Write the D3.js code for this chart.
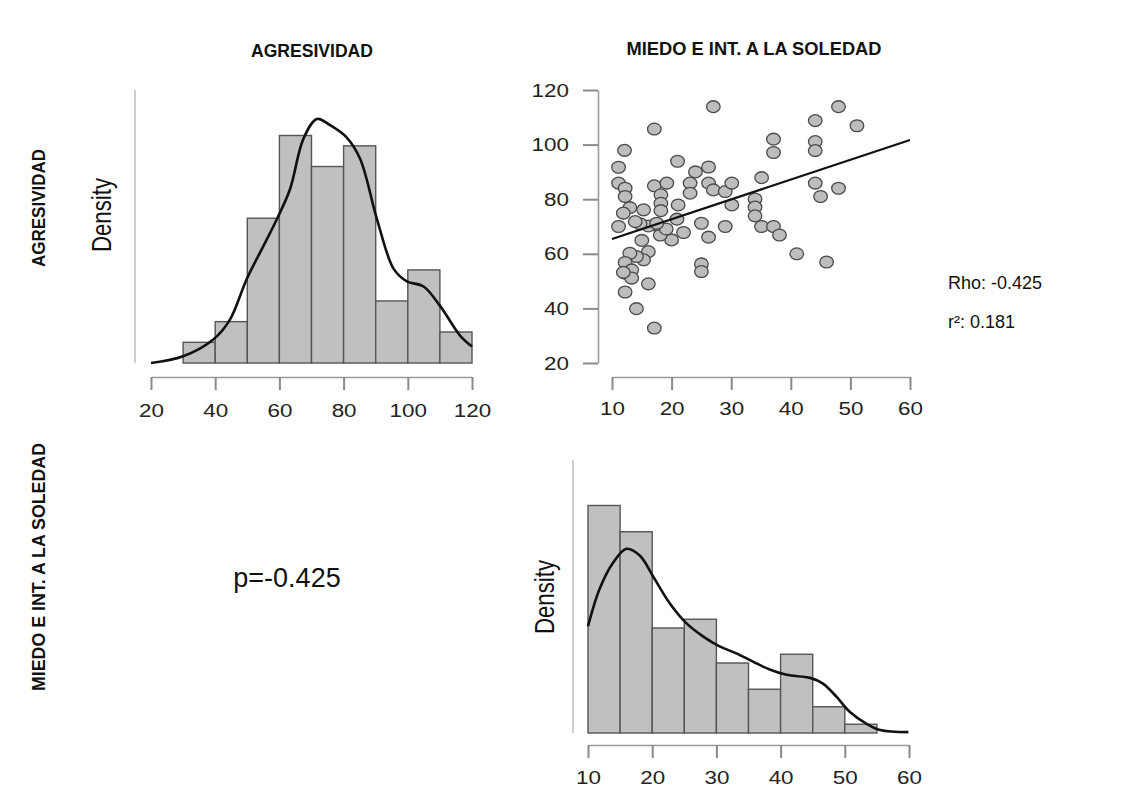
<!DOCTYPE html>
<html>
<head>
<meta charset="utf-8">
<script src="https://cdn.jsdelivr.net/npm/d3@7"></script>
<style>
  body { margin: 0; background: #fff; }
  svg { display: block; }
</style>
</head>
<body>
<svg id="chart" width="1148" height="792"></svg>
<script>
// ---------------- DATA ----------------
const varNames = ["AGRESIVIDAD", "MIEDO E INT. A LA SOLEDAD"];

// Histogram of AGRESIVIDAD (bin width 10)
const agrBinStart = [30, 40, 50, 60, 70, 80, 90, 100, 110];
const agrCounts   = [2, 4, 14, 22, 19, 21, 6, 9, 3];
const agrBinWidth = 10;
const agrN = 100;
const agrTicks = [20, 40, 60, 80, 100, 120];
// Density curve of AGRESIVIDAD
const agrDensX = [20, 30, 39.4, 44.6, 49.8, 55, 59.2, 63.3, 67.5, 71.7, 75.8, 81, 85.2, 90.4, 95.6, 99.7, 104.9, 110.1, 116.4, 120];
const agrDensY = [0.0000, 0.00065, 0.00227, 0.0042, 0.0081, 0.0113, 0.0139, 0.0168, 0.0217, 0.0236, 0.0230, 0.0218, 0.0197, 0.0139, 0.0091, 0.0079, 0.0074, 0.0055, 0.0026, 0.0016];

// Histogram of MIEDO E INT. A LA SOLEDAD (bin width 5)
const mieBinStart = [10, 15, 20, 25, 30, 35, 40, 45, 50];
const mieCounts   = [26, 23, 12, 13, 8, 5, 9, 3, 1];
const mieBinWidth = 5;
const mieN = 100;
const mieTicks = [10, 20, 30, 40, 50, 60];
const mieDensX = [10, 11.8, 13.9, 16, 18.1, 20.1, 22.7, 25.3, 27.9, 30.5, 33.1, 35.7, 38.3, 40.9, 44.6, 46.6, 48.7, 50.8, 53.4, 55.5, 59.9];
const mieDensY = [0.0244, 0.0329, 0.0389, 0.0421, 0.0405, 0.0359, 0.0297, 0.0251, 0.0221, 0.0198, 0.0182, 0.0163, 0.0145, 0.0133, 0.0126, 0.0113, 0.0083, 0.0048, 0.0021, 0.0007, 0.0002];

// Scatter: x = MIEDO E INT. A LA SOLEDAD, y = AGRESIVIDAD
const scatterX = [27.0,17.1,12.1,11.1,21.0,24.0,26.2,11.1,12.2,12.2,17.1,19.2,18.2,18.2,18.2,23.1,23.1,26.2,27.0,29.0,30.1,30.1,21.1,20.9,22.0,25.0,26.2,29.0,20.0,18.1,19.1,17.2,16.1,14.7,13.9,15.3,13.0,11.9,11.1,15.0,16.1,15.3,14.1,13.0,12.2,12.2,13.3,13.3,12.2,16.1,14.1,17.1,25.0,25.0,48.0,44.1,51.1,37.1,37.1,44.1,44.1,35.1,34.0,34.0,34.0,35.1,37.1,38.1,44.1,45.0,48.0,41.0,46.0,17.5,11.9];
const scatterY = [113.9,105.7,97.9,91.7,93.9,90.0,91.8,85.9,84.0,81.0,84.9,85.9,81.6,78.5,75.8,85.9,82.2,85.9,83.4,82.8,85.9,77.9,77.9,72.7,67.8,71.2,66.1,70.0,65.1,66.9,69.1,70.6,70.2,71.0,71.8,76.1,76.9,74.9,70.0,64.9,60.8,57.8,59.0,60.2,56.8,52.9,54.1,51.1,46.0,49.0,39.9,32.8,56.3,53.5,113.9,108.8,106.9,102.0,97.1,101.1,97.8,87.9,80.1,77.1,73.9,70.0,70.0,66.9,85.9,81.0,84.0,60.0,57.0,71.2,53.2];
const scatterXTicks = [10, 20, 30, 40, 50, 60];
const scatterYTicks = [20, 40, 60, 80, 100, 120];
// Regression line end points
const regX = [10, 60];
const regY = [65.4, 101.7];

const statRho = "Rho: -0.425";
const statR2  = "r²: 0.181";
const statP   = "p=-0.425";
const densityLabel = "Density";

// ---------------- DRAWING ----------------
const svg = d3.select("#chart");
svg.append("rect").attr("width", 1148).attr("height", 792).attr("fill", "#fff");

const tickFont = "'Liberation Sans', Arial, sans-serif";
const SX = 1.18; // horizontal stretch of tick labels

function styleAxis(g, left) {
  g.selectAll(".domain").attr("stroke", "#9a9a9a").attr("stroke-width", 1.6);
  g.selectAll(".tick line").attr("stroke", "#8a8a8a").attr("stroke-width", 2);
  const t = g.selectAll(".tick text").attr("font-size", 19).attr("font-family", tickFont).attr("fill", "#222");
  if (left) {
    t.each(function() {
      const x0 = +d3.select(this).attr("x");
      d3.select(this).attr("x", x0 / SX).attr("transform", `scale(${SX},1)`);
    });
  } else {
    t.attr("transform", `scale(${SX},1)`);
  }
}

function histogram(opts) {
  const {binStart, counts, binWidth, n, ticks, densX, densY, xr, base, top, yAxisX, axisY, pad} = opts;
  const dens = counts.map(c => c / (n * binWidth));
  const x = d3.scaleLinear().domain([ticks[0], ticks[ticks.length - 1]]).range(xr);
  const y = d3.scaleLinear().domain([0, d3.max(dens) * 1.2]).range([base, top]);
  const g = svg.append("g");
  g.selectAll("rect.bar").data(binStart).join("rect")
    .attr("class", "bar")
    .attr("x", (d) => x(d))
    .attr("width", (d) => x(d + binWidth) - x(d))
    .attr("y", (d, i) => y(dens[i]))
    .attr("height", (d, i) => y(0) - y(dens[i]))
    .attr("fill", "#c0c0c0")
    .attr("stroke", "#555")
    .attr("stroke-width", 1.4);
  const pts = densX.map((v, i) => [v, densY[i]]);
  g.append("path").datum(pts)
    .attr("d", d3.line().x(d => x(d[0])).y(d => y(d[1])).curve(d3.curveCatmullRom.alpha(0.5)))
    .attr("fill", "none").attr("stroke", "#111").attr("stroke-width", 2.6);
  g.append("line").attr("x1", yAxisX).attr("x2", yAxisX).attr("y1", top).attr("y2", base)
    .attr("stroke", "#cfcfcf").attr("stroke-width", 2);
  const ax = svg.append("g").attr("transform", `translate(0,${axisY})`)
    .call(d3.axisBottom(x).tickValues(ticks).tickSize(13).tickSizeOuter(0).tickPadding(pad));
  styleAxis(ax, false);
  return {x, y};
}

histogram({binStart: agrBinStart, counts: agrCounts, binWidth: agrBinWidth, n: agrN, ticks: agrTicks,
  densX: agrDensX, densY: agrDensY, xr: [151, 472], base: 363, top: 90, yAxisX: 135, axisY: 377, pad: 14});

histogram({binStart: mieBinStart, counts: mieCounts, binWidth: mieBinWidth, n: mieN, ticks: mieTicks,
  densX: mieDensX, densY: mieDensY, xr: [588, 909], base: 733, top: 460, yAxisX: 573, axisY: 745, pad: 13});

// scatter
const xS = d3.scaleLinear().domain([scatterXTicks[0], scatterXTicks[scatterXTicks.length - 1]]).range([612, 910]);
const yS = d3.scaleLinear().domain([scatterYTicks[0], scatterYTicks[scatterYTicks.length - 1]]).range([363, 90]);
const sg = svg.append("g");
sg.selectAll("ellipse").data(scatterX).join("ellipse")
  .attr("cx", d => xS(d))
  .attr("cy", (d, i) => yS(scatterY[i]))
  .attr("rx", 6.8).attr("ry", 5.9)
  .attr("fill", "#bdbdbd").attr("stroke", "#4a4a4a").attr("stroke-width", 1.3);
sg.append("line")
  .attr("x1", xS(regX[0])).attr("y1", yS(regY[0]))
  .attr("x2", xS(regX[1])).attr("y2", yS(regY[1]))
  .attr("stroke", "#111").attr("stroke-width", 2.2);
const sxa = svg.append("g").attr("transform", "translate(0,377)")
  .call(d3.axisBottom(xS).tickValues(scatterXTicks).tickSize(13).tickSizeOuter(0).tickPadding(12));
styleAxis(sxa, false);
const sya = svg.append("g").attr("transform", "translate(598,0)")
  .call(d3.axisLeft(yS).tickValues(scatterYTicks).tickSize(15).tickSizeOuter(0).tickPadding(14));
styleAxis(sya, true);

// titles and row labels (condensed bold)
function boldLabel(tr, txt, len) {
  svg.append("text").attr("transform", tr).attr("text-anchor", "middle")
    .attr("font-family", tickFont).attr("font-weight", "bold").attr("font-size", 19).attr("fill", "#111")
    .attr("textLength", len).attr("lengthAdjust", "spacingAndGlyphs")
    .text(txt);
}
boldLabel("translate(312,57)", varNames[0], 122);
boldLabel("translate(754,55)", varNames[1], 255);
boldLabel("translate(45,208) rotate(-90)", varNames[0], 118);
boldLabel("translate(45,567) rotate(-90)", varNames[1], 248);

// Density labels
function densLabel(tr) {
  svg.append("text").attr("transform", tr).attr("text-anchor", "middle")
    .attr("font-family", tickFont).attr("font-size", 28).attr("fill", "#111")
    .attr("textLength", 74).attr("lengthAdjust", "spacingAndGlyphs").text(densityLabel);
}
densLabel("translate(111,215) rotate(-90)");
densLabel("translate(554,597) rotate(-90)");

// stats
svg.append("text").attr("x", 948).attr("y", 289).attr("font-family", tickFont).attr("font-size", 18)
  .attr("fill", "#111").text(statRho);
svg.append("text").attr("x", 948).attr("y", 328).attr("font-family", tickFont).attr("font-size", 18)
  .attr("fill", "#111").text(statR2);
svg.append("text").attr("x", 287).attr("y", 587).attr("text-anchor", "middle").attr("font-family", tickFont)
  .attr("font-size", 27).attr("fill", "#111").text(statP);
</script>
</body>
</html>
